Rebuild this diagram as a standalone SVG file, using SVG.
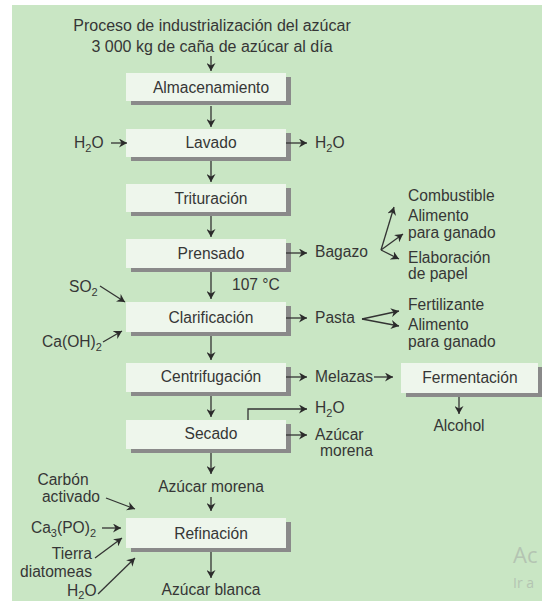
<svg xmlns="http://www.w3.org/2000/svg" width="542" height="603" viewBox="0 0 542 603">
<style>
text{font-family:"Liberation Sans",Arial,sans-serif;font-size:15.6px;fill:#363636}
.t{font-size:16px}
.c{text-anchor:middle}
.e{text-anchor:end}
.sub{font-size:11px}
.box{fill:#eef6ec}
.sh{fill:#8a8a8a}
.ln{fill:none;stroke:#333;stroke-width:1.3;marker-end:url(#ah)}
.wm{fill:#b4c4b2;font-family:"Segoe UI","Open Sans","Noto Sans",sans-serif}
</style>
<defs>
<marker id="ah" viewBox="0 0 8 9" refX="8" refY="4.5" markerWidth="8" markerHeight="9" markerUnits="userSpaceOnUse" orient="auto"><path d="M0,0 L8,4.5 L0,9 L2.5,4.5 z" fill="#2b2b2b"/></marker>
</defs>
<rect x="12" y="5" width="530" height="596" fill="#c9e6c4"/>

<g id="title">
<text class="t c" x="212" y="31">Proceso de industrialización del azúcar</text>
<text class="t c" x="212" y="52">3 000 kg de caña de azúcar al día</text>
</g>

<g id="almacenamiento"><rect class="sh" x="131" y="77" width="160" height="28"/><rect class="box" x="126" y="73" width="160" height="28"/><text class="c" x="211" y="93">Almacenamiento</text></g>
<g id="lavado"><rect class="sh" x="131" y="133" width="160" height="28"/><rect class="box" x="126" y="129" width="160" height="28"/><text class="c" x="211" y="148">Lavado</text></g>
<g id="trituracion"><rect class="sh" x="131" y="188" width="160" height="28"/><rect class="box" x="126" y="184" width="160" height="28"/><text class="c" x="211" y="204">Trituración</text></g>
<g id="prensado"><rect class="sh" x="131" y="243" width="160" height="29"/><rect class="box" x="126" y="239" width="160" height="29"/><text class="c" x="211" y="259">Prensado</text></g>
<g id="clarificacion"><rect class="sh" x="131" y="306" width="160" height="30"/><rect class="box" x="126" y="302" width="160" height="30"/><text class="c" x="211" y="323">Clarificación</text></g>
<g id="centrifugacion"><rect class="sh" x="131" y="367" width="160" height="29"/><rect class="box" x="126" y="363" width="160" height="29"/><text class="c" x="211" y="382">Centrifugación</text></g>
<g id="secado"><rect class="sh" x="131" y="424" width="160" height="29"/><rect class="box" x="126" y="420" width="160" height="29"/><text class="c" x="211" y="439">Secado</text></g>
<g id="refinacion"><rect class="sh" x="131" y="522" width="160" height="30"/><rect class="box" x="126" y="518" width="160" height="30"/><text class="c" x="211" y="539">Refinación</text></g>
<g id="fermentacion"><rect class="sh" x="406" y="367" width="137" height="30"/><rect class="box" x="401" y="363" width="137" height="30"/><text class="c" x="470" y="383">Fermentación</text></g>

<g id="h2o-in-lavado"><text x="74" y="148">H<tspan class="sub" dy="4">2</tspan><tspan dy="-4">O</tspan></text></g>
<g id="h2o-out-lavado"><text x="315" y="148">H<tspan class="sub" dy="4">2</tspan><tspan dy="-4">O</tspan></text></g>
<g id="bagazo"><text x="315" y="257">Bagazo</text></g>
<g id="combustible"><text x="408" y="201">Combustible</text></g>
<g id="alimento1"><text x="408" y="221">Alimento</text><text x="408" y="238">para ganado</text></g>
<g id="papel"><text x="408" y="263">Elaboración</text><text x="408" y="279">de papel</text></g>
<g id="temp"><text x="232" y="290">107 °C</text></g>
<g id="so2"><text x="69" y="292">SO<tspan class="sub" dy="4">2</tspan></text></g>
<g id="caoh2"><text x="42" y="347">Ca(OH)<tspan class="sub" dy="4">2</tspan></text></g>
<g id="pasta"><text x="315" y="323">Pasta</text></g>
<g id="fertilizante"><text x="408" y="310">Fertilizante</text></g>
<g id="alimento2"><text x="408" y="330">Alimento</text><text x="408" y="347">para ganado</text></g>
<g id="melazas"><text x="315" y="382">Melazas</text></g>
<g id="alcohol"><text class="c" x="459" y="431">Alcohol</text></g>
<g id="h2o-secado"><text x="315" y="413">H<tspan class="sub" dy="4">2</tspan><tspan dy="-4">O</tspan></text></g>
<g id="azucar-morena-out"><text x="315" y="440">Azúcar</text><text x="320" y="456">morena</text></g>
<g id="azucar-morena"><text class="c" x="211" y="492">Azúcar morena</text></g>
<g id="carbon"><text class="c" x="63" y="485">Carbón</text><text class="e" x="100" y="502">activado</text></g>
<g id="ca3po2"><text class="e" x="96" y="533">Ca<tspan class="sub" dy="4">3</tspan><tspan dy="-4">(PO)</tspan><tspan class="sub" dy="4">2</tspan></text></g>
<g id="tierra"><text class="e" x="92" y="559">Tierra</text><text class="e" x="92" y="577">diatomeas</text></g>
<g id="h2o-refinacion"><text x="67" y="596">H<tspan class="sub" dy="3">2</tspan><tspan dy="-3">O</tspan></text></g>
<g id="azucar-blanca"><text class="c" x="211" y="595">Azúcar blanca</text></g>

<g id="connectors">
<path class="ln" d="M211,56 V71"/>
<path class="ln" d="M211,106 V127"/>
<path class="ln" d="M211,161 V182"/>
<path class="ln" d="M211,216 V237"/>
<path class="ln" d="M211,272 V299"/>
<path class="ln" d="M211,336 V360"/>
<path class="ln" d="M211,396 V417"/>
<path class="ln" d="M211,453 V474"/>
<path class="ln" d="M211,497 V511"/>
<path class="ln" d="M211,552 V578"/>
<path class="ln" d="M111,143 H127"/>
<path class="ln" d="M286,143 H307"/>
<path class="ln" d="M286,253 H307"/>
<path class="ln" d="M286,318 H307"/>
<path class="ln" d="M286,377 H307"/>
<path class="ln" d="M374,377 H393"/>
<path class="ln" d="M459,397 V414"/>
<path class="ln" d="M248,420 V409 H307"/>
<path class="ln" d="M286,435 H307"/>
<path class="ln" d="M381,250 L394,207"/>
<path class="ln" d="M381,250 L403,234"/>
<path class="ln" d="M381,250 L399,259"/>
<path class="ln" d="M362,319 L399,311"/>
<path class="ln" d="M362,319 L399,326"/>
<path class="ln" d="M100,286 L125,302"/>
<path class="ln" d="M103,342 L122,331"/>
<path class="ln" d="M106,498 L135,509"/>
<path class="ln" d="M102,528 H121"/>
<path class="ln" d="M95,558 L122,538"/>
<path class="ln" d="M98,594 L135,558"/>
</g>

<g id="watermark">
<text class="wm" x="513" y="563" style="font-size:22px">Ac</text>
<text class="wm" x="513" y="588" style="font-size:14px">Ir a</text>
</g>
</svg>
